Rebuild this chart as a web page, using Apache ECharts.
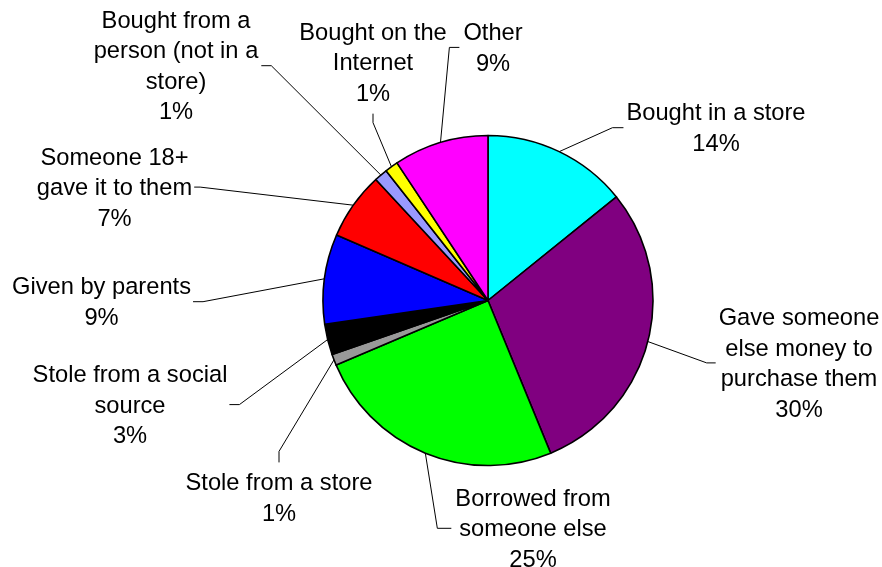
<!DOCTYPE html>
<html>
<head>
<meta charset="utf-8">
<script src="https://cdn.jsdelivr.net/npm/echarts@6/dist/echarts.min.js"></script>
<style>
html,body{margin:0;padding:0;background:#ffffff;}
#chart{width:882px;height:567px;}
</style>
</head>
<body>
<div id="chart"></div>
<script>
// ---- data ----
const categories = [
  "Bought in a store",
  "Gave someone\nelse money to\npurchase them",
  "Borrowed from\nsomeone else",
  "Stole from a store",
  "Stole from a social\nsource",
  "Given by parents",
  "Someone 18+\ngave it to them",
  "Bought from a\nperson (not in a\nstore)",
  "Bought on the\nInternet",
  "Other"
];
const shares = [14.2, 29.6, 24.8, 1.1, 3.0, 8.8, 6.6, 1.3, 1.3, 9.3];
const sliceColors = ["#00FFFF", "#800080", "#00FF00", "#999999", "#000000",
                     "#0000FF", "#FF0000", "#9999FF", "#FFFF00", "#FF00FF"];

// ---- label layout (style / placement only) ----
const labelPlace = [
  {x: 716,   y: 129.2, side: 'left',   gap: 3, elbow: 11},
  {x: 799,   y: 364.4, side: 'left',   gap: 3, elbow: 9},
  {x: 533,   y: 529.8, side: 'left',   gap: 4, elbow: 14},
  {x: 279,   y: 498.9, side: 'top',    gap: 6, elbow: 11},
  {x: 130,   y: 406.1, side: 'right',  gap: 2, elbow: 10},
  {x: 101.5, y: 303.2, side: 'right',  gap: 2, elbow: 10},
  {x: 114.5, y: 188.6, side: 'right',  gap: 2, elbow: 6},
  {x: 176,   y: 67.2,  side: 'right',  gap: 3, elbow: 10},
  {x: 373,   y: 63.9,  side: 'bottom', gap: 4, elbow: 9},
  {x: 493,   y: 48.9,  side: 'left',   gap: 4, elbow: 10}
];

const chart = echarts.init(document.getElementById('chart'), null, {renderer: 'canvas'});

const pieData = categories.map((name, i) => ({
  name: name,
  value: shares[i],
  itemStyle: {color: sliceColors[i]}
}));

chart.setOption({
  animation: false,
  backgroundColor: '#ffffff',
  series: [{
    type: 'pie',
    center: [488, 300.5],
    radius: 165,
    startAngle: 90,
    clockwise: true,
    avoidLabelOverlap: false,
    silent: true,
    data: pieData,
    itemStyle: {borderColor: '#000000', borderWidth: 1.6},
    emphasis: {disabled: true},
    label: {
      show: true,
      position: 'outside',
      formatter: p => p.name + '\n' + Math.round(p.percent) + '%',
      fontFamily: '"Liberation Sans", Arial, sans-serif',
      fontSize: 23.7,
      lineHeight: 30.5,
      color: '#000000',
      align: 'center'
    },
    labelLine: {
      show: true,
      length: 20,
      length2: 10,
      smooth: false,
      lineStyle: {color: '#000000', width: 1}
    },
    labelLayout: function (p) {
      const c = labelPlace[p.dataIndex];
      const w = p.labelRect.width, h = p.labelRect.height;
      const start = (p.labelLinePoints && p.labelLinePoints[0]) ? p.labelLinePoints[0] : [c.x, c.y];
      const ly = c.y - 1.5;
      let end, elbow;
      if (c.side === 'left') {
        end = [c.x - w / 2 - c.gap, ly];
        elbow = [end[0] - c.elbow, ly];
      } else if (c.side === 'right') {
        end = [c.x + w / 2 + c.gap, ly];
        elbow = [end[0] + c.elbow, ly];
      } else if (c.side === 'top') {
        end = [c.x, c.y - h / 2 - c.gap];
        elbow = [c.x, end[1] - c.elbow];
      } else {
        end = [c.x, c.y + h / 2 + c.gap];
        elbow = [c.x, end[1] + c.elbow];
      }
      return {
        x: c.x,
        y: c.y,
        align: 'center',
        verticalAlign: 'middle',
        labelLinePoints: [start, elbow, end]
      };
    }
  }]
});
</script>
</body>
</html>
